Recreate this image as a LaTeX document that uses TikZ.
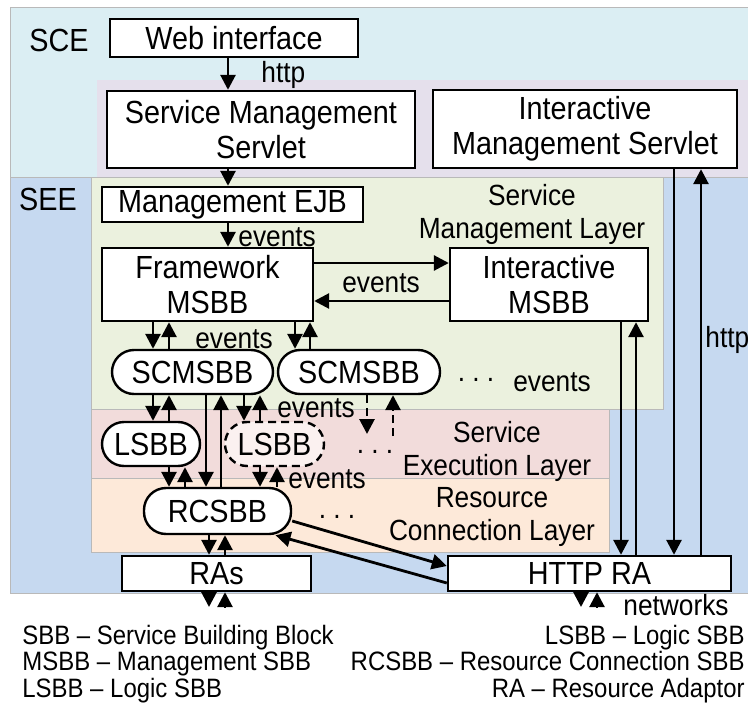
\documentclass[tikz,border=0pt]{standalone}
\usepackage{fontspec}
\setmainfont{Liberation Sans}[FakeStretch=0.9]
\usepackage{xcolor}
\usetikzlibrary{arrows.meta}

\definecolor{scefill}{HTML}{DBEEF3}
\definecolor{seefill}{HTML}{C6D9F0}
\definecolor{servfill}{HTML}{E5E0EC}
\definecolor{mgmtfill}{HTML}{EBF1DE}
\definecolor{execfill}{HTML}{F2DCDB}
\definecolor{connfill}{HTML}{FDE9D9}
\definecolor{lsbbfill}{HTML}{FBF1F0}

\begin{document}
\begin{tikzpicture}[
    x=0.5pt,
    y=-0.5pt,
    bigtext/.style={
        font=\fontsize{16}{17.5}\selectfont
    },
    smalltext/.style={
        font=\fontsize{14.6}{16.5}\selectfont,
        align=center,
        inner sep=0pt
    },
    legendtext/.style={
        font=\fontsize{13.3}{13.25}\selectfont,
        inner sep=0pt
    },
    box/.style={
        bigtext,
        draw,
        line width=1.2pt,
        fill=white,
        inner sep=0pt,
        align=center
    },
    pill/.style={
        box,
        rounded corners=11pt
    },
    zone/.style={
        draw=gray!55,
        line width=0.4pt
    },
    arr/.style={
        line width=1.4pt,
        -{Triangle[length=7.5pt,width=7.5pt]}
    },
    darr/.style={
        arr,
        dash pattern=on 4pt off 2.5pt
    }
]

\useasboundingbox (0,0) rectangle (748,711);

\filldraw[zone, fill=scefill] (10,7) rectangle (748,177);
\fill[servfill] (97,80) rectangle (748,177);
\filldraw[zone, fill=seefill] (10,177) rectangle (748,593);
\filldraw[zone, fill=mgmtfill] (91,177) rectangle (663,409);
\filldraw[zone, fill=execfill] (91,409) rectangle (609,478);
\filldraw[zone, fill=connfill] (91,478) rectangle (609,552);


\node[bigtext] (sce) at (59,40) {SCE};
\node[bigtext] (see) at (48,199) {SEE};

\node[smalltext] (mgmtlayer) at (532,214) {Service\\Management Layer};
\node[smalltext] (execlayer) at (497,451) {Service\\Execution Layer};
\node[smalltext] (connlayer) at (492,517) {Resource\\Connection Layer};


\node[box, minimum width=124pt, minimum height=19pt] (web) at (234,38) {Web interface};
\node[box, minimum width=154pt, minimum height=38.5pt] (sms) at (261,129.5) {Service Management\\Servlet};
\node[box, minimum width=152pt, minimum height=39pt] (ims) at (585,129) {Interactive\\Management Servlet};

\node[box, minimum width=130.5pt, minimum height=17.5pt] (ejb) at (232.5,204.5) {Management EJB};
\node[box, minimum width=105.5pt, minimum height=36.5pt] (fw) at (207.5,284.5) {Framework\\MSBB};
\node[box, minimum width=99pt, minimum height=36.5pt] (imsbb) at (549,284.5) {Interactive\\MSBB};

\node[pill, minimum width=80.5pt, minimum height=22pt] (scma) at (192.5,372) {SCMSBB};
\node[pill, minimum width=81pt, minimum height=22pt] (scmb) at (359,372) {SCMSBB};

\node[pill, minimum width=49pt, minimum height=22pt] (lsa) at (151,444) {LSBB};
\node[pill, dash pattern=on 4pt off 2.5pt, fill=lsbbfill,
      minimum width=49.5pt, minimum height=22pt] (lsb) at (274.5,444) {LSBB};

\node[pill, minimum width=73.5pt, minimum height=23pt] (rc) at (217.5,511) {RCSBB};

\node[box, minimum width=94.5pt, minimum height=17.5pt] (ras) at (216.5,573.5) {RAs};
\node[box, minimum width=141.5pt, minimum height=17.5pt] (hra) at (589.5,573.5) {HTTP RA};


\coordinate (cmgmt) at (228,0);
\coordinate (cfwa) at (153,0);
\coordinate (cfwb) at (169,0);
\coordinate (cfwc) at (295,0);
\coordinate (cfwd) at (310,0);
\coordinate (clsa) at (185,0);
\coordinate (crca) at (206,0);
\coordinate (crcb) at (221,0);
\coordinate (clsc) at (244,0);
\coordinate (clsd) at (260,0);
\coordinate (clse) at (277,0);
\coordinate (craa) at (209,0);
\coordinate (crab) at (225,0);
\coordinate (cima) at (621,0);
\coordinate (cimb) at (636,0);
\coordinate (cisa) at (674,0);
\coordinate (cisb) at (701,0);
\coordinate (rfwa) at (0,263);
\coordinate (rfwb) at (0,301);

\coordinate (dashdn) at (367,434);
\coordinate (dashup) at (393,436);
\coordinate (rasdn) at (209,607);
\coordinate (rasup) at (225,607);
\coordinate (netdn) at (581,607);
\coordinate (netup) at (597,607);


\draw[arr] (web.south -| cmgmt) -- (sms.north -| cmgmt);
\draw[arr] (sms.south -| cmgmt) -- (ejb.north -| cmgmt);
\draw[arr] (ejb.south -| cmgmt) -- (fw.north -| cmgmt);

\draw[arr] (fw.east |- rfwa) -- (imsbb.west |- rfwa);
\draw[arr] (imsbb.west |- rfwb) -- (fw.east |- rfwb);

\draw[arr] (fw.south -| cfwa) -- (scma.north -| cfwa);
\draw[arr] (scma.north -| cfwb) -- (fw.south -| cfwb);
\draw[arr] (fw.south -| cfwc) -- (scmb.north -| cfwc);
\draw[arr] (scmb.north -| cfwd) -- (fw.south -| cfwd);

\draw[arr] (scma.south -| cfwa) -- (lsa.north -| cfwa);
\draw[arr] (lsa.north -| cfwb) -- (scma.south -| cfwb);
\draw[arr] (scma.south -| crca) -- (rc.north -| crca);
\draw[arr] (rc.north -| crcb) -- (scma.south -| crcb);
\draw[arr] (scma.south -| clsc) -- (lsb.north -| clsc);
\draw[arr] (lsb.north -| clsd) -- (scma.south -| clsd);

\draw[darr] (scmb.south -| dashdn) -- (dashdn);
\draw[darr] (dashup) -- (scmb.south -| dashup);

\draw[arr] (lsa.south -| cfwb) -- (rc.north -| cfwb);
\draw[arr] (rc.north -| clsa) -- (lsa.south -| clsa);
\draw[arr] (lsb.south -| clsd) -- (rc.north -| clsd);
\draw[arr] (rc.north -| clse) -- (lsb.south -| clse);

\draw[arr] (rc.south -| craa) -- (ras.north -| craa);
\draw[arr] (ras.north -| crab) -- (rc.south -| crab);
\draw[arr] (ras.south -| rasdn) -- (rasdn);
\draw[arr] (rasup) -- (ras.south -| rasup);

\draw[arr] ([yshift=-5pt]rc.east) -- ([yshift=3.75pt]hra.west);
\draw[arr] ([yshift=-4.75pt]hra.west) -- ([xshift=29pt]rc.south);

\draw[arr] (imsbb.south -| cima) -- (hra.north -| cima);
\draw[arr] (hra.north -| cimb) -- (imsbb.south -| cimb);
\draw[arr] (ims.south -| cisa) -- (hra.north -| cisa);
\draw[arr] (hra.north -| cisb) -- (ims.south -| cisb);

\draw[arr] (hra.south -| netdn) -- (netdn);
\draw[arr] (netup) -- (hra.south -| netup);


\node[smalltext, anchor=west] (httpweb) at (261,75) {http};
\node[smalltext, anchor=west] (evejb) at (238,237) {events};
\node[smalltext] (evfw) at (381,283) {events};
\node[smalltext] (evscm) at (234,339) {events};
\node[smalltext] (evlsb) at (316,408) {events};
\node[smalltext] (evrc) at (327,479) {events};
\node[smalltext] (evdots) at (552,382) {events};
\node[smalltext, anchor=base] (dotsscm) at (476,381) {.\ .\ .};
\node[smalltext, anchor=base] (dotsls) at (375,453) {.\ .\ .};
\node[smalltext, anchor=base] (dotsrc) at (337,518) {.\ .\ .};
\node[smalltext, anchor=west] (httpims) at (705,340) {http};
\node[smalltext, anchor=west] (networks) at (623,605) {networks};


\node[legendtext, anchor=west, align=left] (legleft) at (22,664)
    {SBB -- Service Building Block\\MSBB -- Management SBB\\LSBB -- Logic SBB};
\node[legendtext, anchor=east, align=right] (legright) at (745,664)
    {LSBB -- Logic SBB\\RCSBB -- Resource Connection SBB\\RA -- Resource Adaptor};

\end{tikzpicture}
\end{document}
